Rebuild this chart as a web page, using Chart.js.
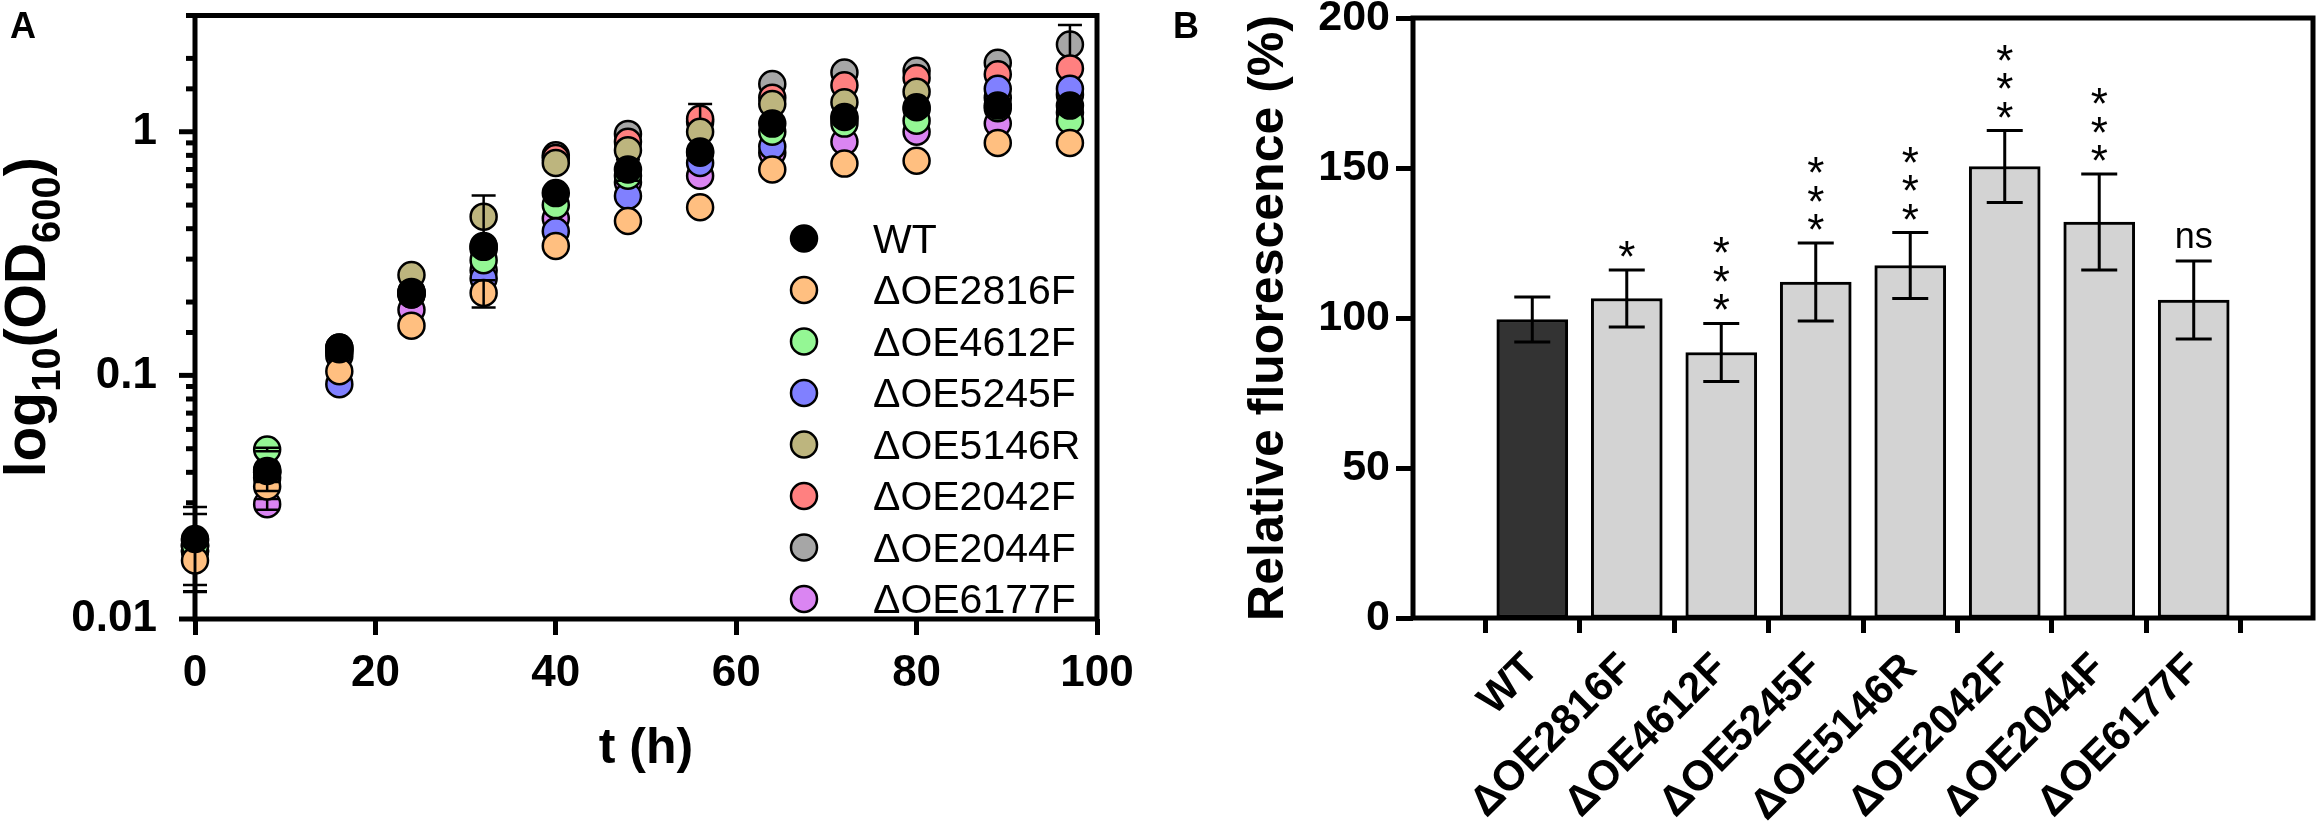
<!DOCTYPE html>
<html>
<head>
<meta charset="utf-8">
<script src="https://cdn.jsdelivr.net/npm/chart.js@4.4.1/dist/chart.umd.min.js"></script>
<style>
  html, body { margin: 0; padding: 0; background: #fff; }
  #wrap { position: relative; width: 2320px; height: 837px; }
  canvas { position: absolute; top: 0; }
</style>
</head>
<body>
<div id="wrap">
  <canvas id="growthChart" width="1150" height="837" style="left:0px"></canvas>
  <canvas id="fluorChart" width="1170" height="837" style="left:1150px"></canvas>
</div>
<script>
// ---- data ----
const hours = [0, 8, 16, 24, 32, 40, 48, 56, 64, 72, 80, 89, 97];
const strains = ['WT', 'ΔOE2816F', 'ΔOE4612F', 'ΔOE5245F', 'ΔOE5146R', 'ΔOE2042F', 'ΔOE2044F', 'ΔOE6177F'];

// panel A: OD600 growth curves
const odWT    = [0.0213, 0.0405, 0.128, 0.218, 0.337, 0.56, 0.70, 0.83, 1.08, 1.15, 1.26, 1.28, 1.28];
const od2816F = [0.0174, 0.035, 0.104, 0.16, 0.218, 0.34, 0.43, 0.49, 0.70, 0.74, 0.76, 0.90, 0.90];
const od4612F = [0.020, 0.0496, 0.125, 0.22, 0.297, 0.50, 0.66, 0.82, 1.00, 1.08, 1.11, 1.25, 1.11];
const od5245F = [0.019, 0.038, 0.092, 0.215, 0.25, 0.39, 0.545, 0.745, 0.87, 1.13, 1.24, 1.50, 1.50];
const od5146R = [0.020, 0.040, 0.13, 0.258, 0.448, 0.745, 0.84, 1.00, 1.30, 1.32, 1.46, 1.38, 1.42];
const od2042F = [0.021, 0.041, 0.13, 0.22, 0.34, 0.78, 0.91, 1.13, 1.38, 1.55, 1.66, 1.72, 1.82];
const od2044F = [0.020, 0.040, 0.126, 0.215, 0.33, 0.80, 0.98, 1.10, 1.57, 1.75, 1.78, 1.92, 2.28];
const od6177F = [0.019, 0.0296, 0.12, 0.186, 0.27, 0.44, 0.62, 0.66, 0.82, 0.91, 1.00, 1.08, 1.20];

// error bars (SD), 0 = hidden behind the marker
const errWT    = [0.0075, 0, 0, 0, 0, 0, 0.07, 0, 0, 0, 0, 0, 0];
const err2816F = [0.0045, 0.0015, 0, 0, 0.028, 0, 0, 0, 0, 0, 0, 0, 0];
const err4612F = [0.007, 0.0008, 0, 0, 0, 0, 0, 0, 0, 0, 0, 0, 0];
const err5245F = [0, 0, 0, 0, 0, 0, 0, 0, 0, 0, 0, 0, 0];
const err5146R = [0, 0, 0, 0, 0.10, 0, 0, 0, 0, 0, 0, 0, 0];
const err2042F = [0, 0, 0, 0, 0, 0, 0, 0.17, 0, 0, 0, 0, 0];
const err2044F = [0, 0, 0, 0, 0, 0, 0, 0, 0, 0, 0, 0, 0.46];
const err6177F = [0, 0.0015, 0, 0, 0, 0, 0, 0, 0, 0, 0, 0, 0];

const odTickLabels = ['0.01', '0.1', '1'];

// panel B: relative fluorescence
const fluorMean = [99.5, 106.5, 88.5, 112, 117.5, 150.5, 132, 106];
const fluorErr  = [7.5, 9.5, 9.7, 13, 11, 12, 16, 13];
const sigLabels = ['', '*', '***', '***', '***', '***', '***', 'ns'];

const odSeries = [odWT, od2816F, od4612F, od5245F, od5146R, od2042F, od2044F, od6177F];
const odErrors = [errWT, err2816F, err4612F, err5245F, err5146R, err2042F, err2044F, err6177F];
const strainColors = ['#000000', '#FFBF80', '#94F794', '#8080FF', '#BDB57E', '#FF8080', '#A6A6A6', '#DA85F2'];

const FONT = "'Liberation Sans', Arial, sans-serif";
Chart.defaults.font.family = FONT;
Chart.defaults.color = '#000';

// fix the size of an axis box and drop the label overhang padding
const fitTo = (prop, size) => s => {
  s[prop] = size;
  s.paddingTop = 0; s.paddingBottom = 0; s.paddingLeft = 0; s.paddingRight = 0;
};

// ---- shared plugins ----
const framePlugin = (hook) => ({
  id: 'frame',
  [hook](chart) {
    const {ctx, chartArea: a} = chart;
    ctx.save();
    ctx.lineWidth = 5;
    ctx.strokeStyle = '#000';
    ctx.strokeRect(a.left, a.top, a.right - a.left, a.bottom - a.top);
    ctx.restore();
  }
});

// ---- panel A ----
const logTicksPlugin = {
  id: 'logTicks',
  afterDraw(chart) {
    const {ctx, chartArea: a} = chart;
    const y = chart.scales.y;
    ctx.save();
    ctx.strokeStyle = '#000';
    ctx.lineWidth = 5;
    y.ticks.forEach(t => {
      const l = Math.log10(t.value);
      const major = Math.abs(l - Math.round(l)) < 1e-6;
      const py = y.getPixelForValue(t.value);
      ctx.beginPath();
      ctx.moveTo(a.left - (major ? 16 : 9), py);
      ctx.lineTo(a.left, py);
      ctx.stroke();
    });
    ctx.restore();
  }
};

const odErrorPlugin = {
  id: 'odErrors',
  afterDatasetDraw(chart, args) {
    const ds = chart.data.datasets[args.index];
    const {ctx} = chart;
    const xs = chart.scales.x, ys = chart.scales.y;
    ctx.save();
    ctx.strokeStyle = '#000';
    ctx.lineWidth = 2.5;
    ds.data.forEach((p, i) => {
      const e = ds.errors[i];
      if (!e) return;
      const px = xs.getPixelForValue(p.x);
      const top = ys.getPixelForValue(p.y + e);
      const bot = ys.getPixelForValue(p.y - e);
      ctx.beginPath();
      ctx.moveTo(px, top); ctx.lineTo(px, bot);
      ctx.moveTo(px - 12, top); ctx.lineTo(px + 12, top);
      ctx.moveTo(px - 12, bot); ctx.lineTo(px + 12, bot);
      ctx.stroke();
    });
    ctx.restore();
  }
};

const odLegendPlugin = {
  id: 'odLegend',
  afterDraw(chart) {
    const {ctx, chartArea: a} = chart;
    const x0 = a.right - 293, y0 = a.top + 223;
    ctx.save();
    ctx.font = '41px ' + FONT;
    ctx.textAlign = 'left';
    ctx.textBaseline = 'alphabetic';
    chart.data.datasets.forEach((ds, i) => {
      const y = y0 + i * 51.5;
      ctx.beginPath();
      ctx.arc(x0, y, 13, 0, Math.PI * 2);
      ctx.fillStyle = ds.pointBackgroundColor;
      ctx.fill();
      ctx.lineWidth = 2.5;
      ctx.strokeStyle = '#000';
      ctx.stroke();
      ctx.fillStyle = '#000';
      ctx.fillText(ds.label, x0 + 69, y + 14);
    });
    ctx.restore();
  }
};

const odTitlesPlugin = {
  id: 'odTitles',
  afterDraw(chart) {
    const {ctx, chartArea: a} = chart;
    ctx.save();
    ctx.fillStyle = '#000';
    // panel letter
    ctx.font = 'bold 36px ' + FONT;
    ctx.textAlign = 'left';
    ctx.fillText('A', 10, 38);
    // x title
    ctx.font = 'bold 50px ' + FONT;
    ctx.textAlign = 'center';
    ctx.fillText('t (h)', (a.left + a.right) / 2, 763);
    // y title with subscripts
    const parts = [['log', false], ['10', true], ['(OD', false], ['600', true], [')', false]];
    const size = 57, sub = 0.7;
    const fontOf = s => 'bold ' + (s ? Math.round(size * sub) : size) + 'px ' + FONT;
    let total = 0;
    parts.forEach(([t, s]) => { ctx.font = fontOf(s); total += ctx.measureText(t).width; });
    ctx.translate(45, (a.top + a.bottom) / 2);
    ctx.rotate(-Math.PI / 2);
    ctx.textAlign = 'left';
    let cx = -total / 2;
    parts.forEach(([t, s]) => {
      ctx.font = fontOf(s);
      ctx.fillText(t, cx, s ? 15 : 0);
      cx += ctx.measureText(t).width;
    });
    ctx.restore();
  }
};

new Chart(document.getElementById('growthChart'), {
  type: 'scatter',
  data: {
    datasets: strains.map((name, i) => ({
      label: name,
      data: hours.map((h, j) => ({x: h, y: odSeries[i][j]})),
      errors: odErrors[i],
      pointRadius: 13,
      pointHoverRadius: 13,
      pointBorderWidth: 2.5,
      pointHoverBorderWidth: 2.5,
      pointBorderColor: '#000',
      pointBackgroundColor: strainColors[i],
      pointHoverBackgroundColor: strainColors[i],
      showLine: false,
      clip: false
    }))
  },
  options: {
    responsive: false,
    animation: false,
    events: [],
    layout: {padding: {left: 0, right: 53, top: 7, bottom: 0}},
    plugins: {legend: {display: false}, tooltip: {enabled: false}},
    scales: {
      x: {
        type: 'linear', min: 0, max: 100,
        afterFit: fitTo('height', 218),
        ticks: {stepSize: 20, maxRotation: 0, padding: 12, color: '#000', font: {size: 44, weight: 'bold'}},
        grid: {drawOnChartArea: false, tickLength: 16, tickWidth: 5, tickColor: '#000'},
        border: {display: false}
      },
      y: {
        type: 'logarithmic', min: 0.01, max: 3,
        afterFit: fitTo('width', 195),
        ticks: {
          autoSkip: false, padding: 30, color: '#000', font: {size: 44, weight: 'bold'},
          callback: v => odTickLabels.find(l => Math.abs(parseFloat(l) - v) < 1e-9) || ''
        },
        grid: {display: false},
        border: {display: false}
      }
    }
  },
  plugins: [framePlugin('beforeDatasetsDraw'), logTicksPlugin, odErrorPlugin, odLegendPlugin, odTitlesPlugin]
});

// ---- panel B ----
const fluorDecorPlugin = {
  id: 'fluorDecor',
  afterDatasetsDraw(chart) {
    const {ctx} = chart;
    const xs = chart.scales.x, ys = chart.scales.y;
    ctx.save();
    ctx.strokeStyle = '#000';
    ctx.fillStyle = '#000';
    ctx.lineWidth = 3;
    fluorMean.forEach((m, i) => {
      const px = xs.getPixelForValue(i);
      const top = ys.getPixelForValue(m + fluorErr[i]);
      const bot = ys.getPixelForValue(m - fluorErr[i]);
      ctx.beginPath();
      ctx.moveTo(px, top); ctx.lineTo(px, bot);
      ctx.moveTo(px - 18, top); ctx.lineTo(px + 18, top);
      ctx.moveTo(px - 18, bot); ctx.lineTo(px + 18, bot);
      ctx.stroke();

      const lab = sigLabels[i];
      if (!lab) return;
      ctx.textAlign = 'center';
      if (lab === 'ns') {
        ctx.font = '36px ' + FONT;
        const mt = ctx.measureText('ns');
        const cy = top - 23;
        ctx.fillText('ns', px, cy + (mt.actualBoundingBoxAscent - mt.actualBoundingBoxDescent) / 2);
      } else {
        ctx.font = '44px ' + FONT;
        const mt = ctx.measureText('*');
        for (let k = 0; k < lab.length; k++) {
          const cy = top - 21 - k * 28.5;
          ctx.fillText('*', px, cy + (mt.actualBoundingBoxAscent - mt.actualBoundingBoxDescent) / 2);
        }
      }
    });
    ctx.restore();
  },
  afterDraw(chart) {
    const {ctx, chartArea: a} = chart;
    ctx.save();
    ctx.fillStyle = '#000';
    ctx.font = 'bold 36px ' + FONT;
    ctx.textAlign = 'left';
    ctx.fillText('B', 23, 38);
    ctx.font = 'bold 50px ' + FONT;
    ctx.textAlign = 'center';
    ctx.translate(a.left - 130, (a.top + a.bottom) / 2);
    ctx.rotate(-Math.PI / 2);
    ctx.fillText('Relative fluorescence (%)', 0, 0);
    ctx.restore();
  }
};

new Chart(document.getElementById('fluorChart'), {
  type: 'bar',
  data: {
    datasets: [{
      data: fluorMean.map((v, i) => ({x: i, y: v})),
      backgroundColor: c => c.dataIndex === 0 ? '#333333' : '#D3D3D3',
      borderColor: '#000',
      borderWidth: 3,
      borderSkipped: false,
      barThickness: 71
    }]
  },
  options: {
    responsive: false,
    animation: false,
    events: [],
    layout: {padding: {left: 0, right: 7, top: 18, bottom: 0}},
    plugins: {legend: {display: false}, tooltip: {enabled: false}},
    scales: {
      x: {
        type: 'linear', min: -0.667, max: 7.667,
        afterBuildTicks: s => { s.ticks = strains.map((_, i) => ({value: i})); },
        afterFit: fitTo('height', 219),
        ticks: {
          autoSkip: false, minRotation: 45, maxRotation: 45, padding: 11,
          color: '#000', font: {size: 42, weight: 'bold'},
          callback: v => strains[v]
        },
        grid: {drawOnChartArea: false, tickLength: 15, tickWidth: 5, tickColor: '#000'},
        border: {display: false}
      },
      y: {
        min: 0, max: 200,
        afterFit: fitTo('width', 263),
        ticks: {stepSize: 50, padding: 6, color: '#000', font: {size: 43, weight: 'bold'}},
        grid: {drawOnChartArea: false, tickLength: 17, tickWidth: 5, tickColor: '#000'},
        border: {display: false}
      }
    }
  },
  plugins: [framePlugin('afterDatasetsDraw'), fluorDecorPlugin]
});
</script>
</body>
</html>
